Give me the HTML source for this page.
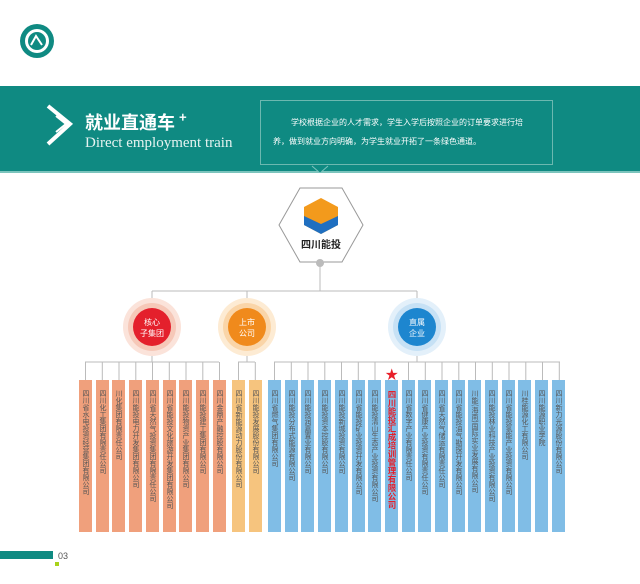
<!DOCTYPE html>
<html><head><meta charset="utf-8"><style>
*{margin:0;padding:0;box-sizing:border-box}
body{width:640px;height:584px;background:#fff;position:relative;overflow:hidden;font-family:"Liberation Sans","Noto Sans CJK SC",sans-serif}
.band{position:absolute;left:0;top:86px;width:640px;height:87px;background:#0f8a82;border-bottom:2px solid #7cc4bd}
.t1{position:absolute;left:85px;top:107px;color:#fff;font-size:18px;font-weight:bold;font-family:"Noto Sans CJK SC",sans-serif}
.t1 sup{font-size:13px;vertical-align:7px;margin-left:4px}
.t2{position:absolute;left:85px;top:135px;color:#e6f3f1;font-size:15px;font-family:"Liberation Serif",serif}
.box{position:absolute;left:260px;top:100px;width:293px;height:65px;border:1px solid #6cb8b0;color:#fff;font-size:8px;line-height:19px;padding:12px 18px 0 12px;font-family:"Noto Sans CJK SC",sans-serif;text-indent:18px}
.bar{position:absolute;top:380px;width:13px;height:152px;font-size:7px;color:#555;writing-mode:vertical-rl;padding-top:10px;line-height:13px;text-align:start;font-family:"Noto Sans CJK SC",sans-serif}
.r{background:#f0a07c}.y{background:#f6c47e}.b{background:#80bde6}
</style></head><body>
<svg style="position:absolute;left:0;top:0" width="640" height="584">
<circle cx="37" cy="41" r="17" fill="#0f8a82"/><circle cx="37" cy="41" r="12" fill="#fff"/><circle cx="37" cy="41" r="9" fill="#0f8a82"/>
<path d="M31 45 L36 36 L42 45" stroke="#fff" stroke-width="2" fill="none"/>
<polygon points="300,188 342,188 363,225 342,262 300,262 279,225" fill="#fff" stroke="#999" stroke-width="1"/>
<polygon points="321,198 338,207 338,225 321,234 304,225 304,207" fill="#f39a1c"/>
<polygon points="304,216 321,224 338,216 338,225 321,234 304,225" fill="#1f6fc0"/>
<text x="321" y="248" font-size="10" font-weight="bold" text-anchor="middle" fill="#222" font-family="Noto Sans CJK SC,sans-serif">四川能投</text>
<circle cx="320" cy="263" r="4" fill="#bbb"/>
<line x1="320" y1="263" x2="320" y2="291" stroke="#bbb"/>
<line x1="152" y1="291" x2="417" y2="291" stroke="#bbb"/>
<line x1="152" y1="291" x2="152" y2="362" stroke="#bbb"/>
<line x1="247" y1="291" x2="247" y2="362" stroke="#bbb"/>
<line x1="417" y1="291" x2="417" y2="362" stroke="#bbb"/>
<circle cx="152" cy="327" r="29" fill="#fbe3da"/><circle cx="152" cy="327" r="24" fill="#f6c8b8"/><circle cx="152" cy="327" r="19" fill="#e4202c"/>
<circle cx="247" cy="327" r="29" fill="#fdebd3"/><circle cx="247" cy="327" r="24" fill="#fad5a8"/><circle cx="247" cy="327" r="19" fill="#f08a1c"/>
<circle cx="417" cy="327" r="29" fill="#e3f0fa"/><circle cx="417" cy="327" r="24" fill="#c6e1f5"/><circle cx="417" cy="327" r="19" fill="#1d86cf"/>
<g fill="#fff" font-size="8" text-anchor="middle" font-family="Noto Sans CJK SC,sans-serif">
<text x="152" y="325">核心</text><text x="152" y="336">子集团</text>
<text x="247" y="325">上市</text><text x="247" y="336">公司</text>
<text x="417" y="325">直属</text><text x="417" y="336">企业</text></g>
<line x1="85" y1="362" x2="219" y2="362" stroke="#bbb"/>
<line x1="238" y1="362" x2="255" y2="362" stroke="#bbb"/>
<line x1="274" y1="362" x2="560" y2="362" stroke="#bbb"/>
<g stroke="#bbb">
<path d="M85.5 362V380M102.3 362V380M119 362V380M135.8 362V380M152.5 362V380M169.3 362V380M186 362V380M202.8 362V380M219.5 362V380M238.5 362V380M255.3 362V380"/>
<path d="M274.5 362V380M291.3 362V380M308 362V380M324.8 362V380M341.5 362V380M358.3 362V380M375 362V380M408.5 362V380M425.3 362V380M442 362V380M458.8 362V380M475.5 362V380M492.3 362V380M509 362V380M525.8 362V380M542.5 362V380M559.3 362V380"/></g>
<text x="391.8" y="379" font-size="13" fill="#e8202a" text-anchor="middle">★</text>
<rect x="0" y="551" width="53" height="8" fill="#0f8a82"/>
<rect x="55" y="562" width="4" height="4" fill="#a8d21a"/>
<text x="58" y="559" font-size="9" fill="#555">03</text>
</svg>
<div class="band"></div>
<svg style="position:absolute;left:0;top:86px" width="640" height="87">
<polyline points="48,20 70,38 48,58" stroke="#fff" stroke-width="4" fill="none"/>
<polyline points="56,30 66,38 56,46" stroke="#fff" stroke-width="2" fill="none"/>
<polyline points="312,80 320,87 328,80" stroke="#7cc4bd" stroke-width="1" fill="#0f8a82"/>
</svg>
<div class="t1">就业直通车<sup>+</sup></div>
<div class="t2">Direct employment train</div>
<div class="box">学校根据企业的人才需求，学生入学后按照企业的订单要求进行培养，做到就业方向明确，为学生就业开拓了一条绿色通道。</div>

<div class="bar r" style="left:79px">四川省水电投资经营集团有限公司</div>
<div class="bar r" style="left:96px">四川化工集团有限责任公司</div>
<div class="bar r" style="left:112px">川化集团有限责任公司</div>
<div class="bar r" style="left:129px">四川能投电力开发集团有限公司</div>
<div class="bar r" style="left:146px">四川省天然气投资集团有限责任公司</div>
<div class="bar r" style="left:163px">四川省能投文化旅游开发集团有限公司</div>
<div class="bar r" style="left:179px">四川能投物资产业集团有限公司</div>
<div class="bar r" style="left:196px">四川能投建工集团有限公司</div>
<div class="bar r" style="left:213px">四川金鼎产融控股有限公司</div>
<div class="bar y" style="left:232px">四川省新能源动力股份有限公司</div>
<div class="bar y" style="left:249px">四川能投发展股份有限公司</div>

<div class="bar b" style="left:268px">四川省燃气集团有限公司</div>
<div class="bar b" style="left:285px">四川能投分布式能源有限公司</div>
<div class="bar b" style="left:301px">四川能投润嘉置业有限公司</div>
<div class="bar b" style="left:318px">四川能投资本控股有限公司</div>
<div class="bar b" style="left:335px">四川能投新城投资有限公司</div>
<div class="bar b" style="left:352px">四川省能投矿业投资开发有限公司</div>
<div class="bar b" style="left:368px">四川能投清山生态产业投资有限公司</div>
<div class="bar b" style="left:385px;color:#e4202c;font-weight:bold;font-size:8.5px">四川能投汇成培训管理有限公司</div>
<div class="bar b" style="left:402px">四川省数字产业有限责任公司</div>
<div class="bar b" style="left:418px">四川省健康产业投资有限责任公司</div>
<div class="bar b" style="left:435px">四川省天然气储运有限责任公司</div>
<div class="bar b" style="left:452px">四川省能投油气勘探开发有限公司</div>
<div class="bar b" style="left:468px">川能(海南)国际实业发展有限公司</div>
<div class="bar b" style="left:485px">四川能投林业科技产业投资有限公司</div>
<div class="bar b" style="left:502px">四川省能投氢能产业投资有限公司</div>
<div class="bar b" style="left:518px">川桂能源化工有限公司</div>
<div class="bar b" style="left:535px">四川能源职业学院</div>
<div class="bar b" style="left:552px">四川新力光源股份有限公司</div>
</body></html>
